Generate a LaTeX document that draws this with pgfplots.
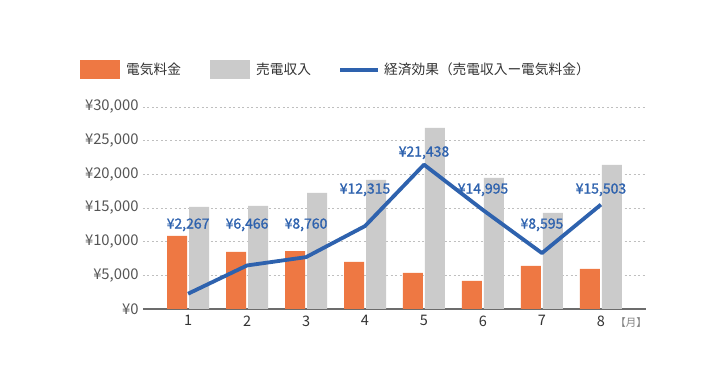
\documentclass[border=0pt]{standalone}
\usepackage{pgfplots}
\pgfplotsset{compat=1.18}
\usepackage{fontspec}
\setmainfont{Noto Sans CJK JP}
\newfontfamily\labelfont[FakeBold=1.2]{Noto Sans CJK JP}
\definecolor{corange}{HTML}{EE7843}
\definecolor{cgray}{HTML}{CBCBCB}
\definecolor{cblue}{HTML}{2E62AE}
\definecolor{ctick}{HTML}{555555}
\begin{document}
\begin{tikzpicture}[x=1pt,y=1pt]
\path[use as bounding box] (0,0) rectangle (726,390);
\begin{axis}[
  at={(143pt,81pt)}, anchor=south west,
  scale only axis, width=503pt, height=202pt,
  xmin=0.236, xmax=8.764, ymin=0, ymax=30000,
  xtick={1,...,8}, ytick={0,5000,...,30000},
  axis lines*=left,
  y axis line style={draw=none},
  x axis line style={draw=gray!85!black, line width=1.5pt, -},
  major tick length=0pt,
  ymajorgrids,
  grid style={draw=gray!50, line width=0.7pt, dash pattern=on 2pt off 2.5pt},
  /pgf/number format/assume math mode=true,
  /pgf/number format/1000 sep={,},
  scaled y ticks=false,
  yticklabel={¥\pgfmathprintnumber{\tick}},
  yticklabel style={font=\fontsize{14.8}{15}\selectfont, color=ctick, xshift=-1pt},
  xticklabel style={font=\fontsize{14.5}{15}\selectfont, color=black!80, yshift=-3pt},
  clip=false,
]
\addplot[ybar, bar width=20pt, bar shift=-11pt, fill=corange, draw=none] coordinates {
(1,10850) (2,8470) (3,8600) (4,7000) (5,5350) (6,4160) (7,6400) (8,5940)};
\addplot[ybar, bar width=20pt, bar shift=11pt, fill=cgray, draw=none] coordinates {
(1,15160) (2,15300) (3,17240) (4,19170) (5,26900) (6,19460) (7,14260) (8,21400)};
\addplot[cblue, line width=3.8pt, line join=round, mark=none] coordinates {
(1,2267) (2,6466) (3,7700) (4,12315) (5,21438) (6,14700) (7,8300) (8,15503)};
\begin{scope}[every node/.style={font=\labelfont\fontsize{14}{15}\selectfont, text=cblue}]
\node at (axis cs:1,12500) {¥2,267};
\node at (axis cs:2,12500) {¥6,466};
\node at (axis cs:3,12500) {¥8,760};
\node at (axis cs:4,17700) {¥12,315};
\node at (axis cs:5,23200) {¥21,438};
\node at (axis cs:6,17700) {¥14,995};
\node at (axis cs:7,12500) {¥8,595};
\node at (axis cs:8,17700) {¥15,503};
\end{scope}
\node[font=\fontsize{10.5}{11}\selectfont, text=gray, anchor=east, inner sep=0pt] at ([yshift=-14pt, xshift=1pt]rel axis cs:1,0) {【月】};
\end{axis}
\fill[corange] (80,311) rectangle (120,330);
\node[anchor=west, font=\fontsize{13.7}{14}\selectfont, text=black!80, inner sep=0pt] at (126,320.5) {電気料金};
\fill[cgray] (210,311) rectangle (250,330);
\node[anchor=west, font=\fontsize{13.7}{14}\selectfont, text=black!80, inner sep=0pt] at (256,320.5) {売電収入};
\draw[cblue, line width=4pt] (340,320) -- (378,320);
\node[anchor=west, font=\fontsize{13.7}{14}\selectfont, text=black!80, inner sep=0pt] at (384,320.5) {経済効果（売電収入ー電気料金）};
\end{tikzpicture}
\end{document}
